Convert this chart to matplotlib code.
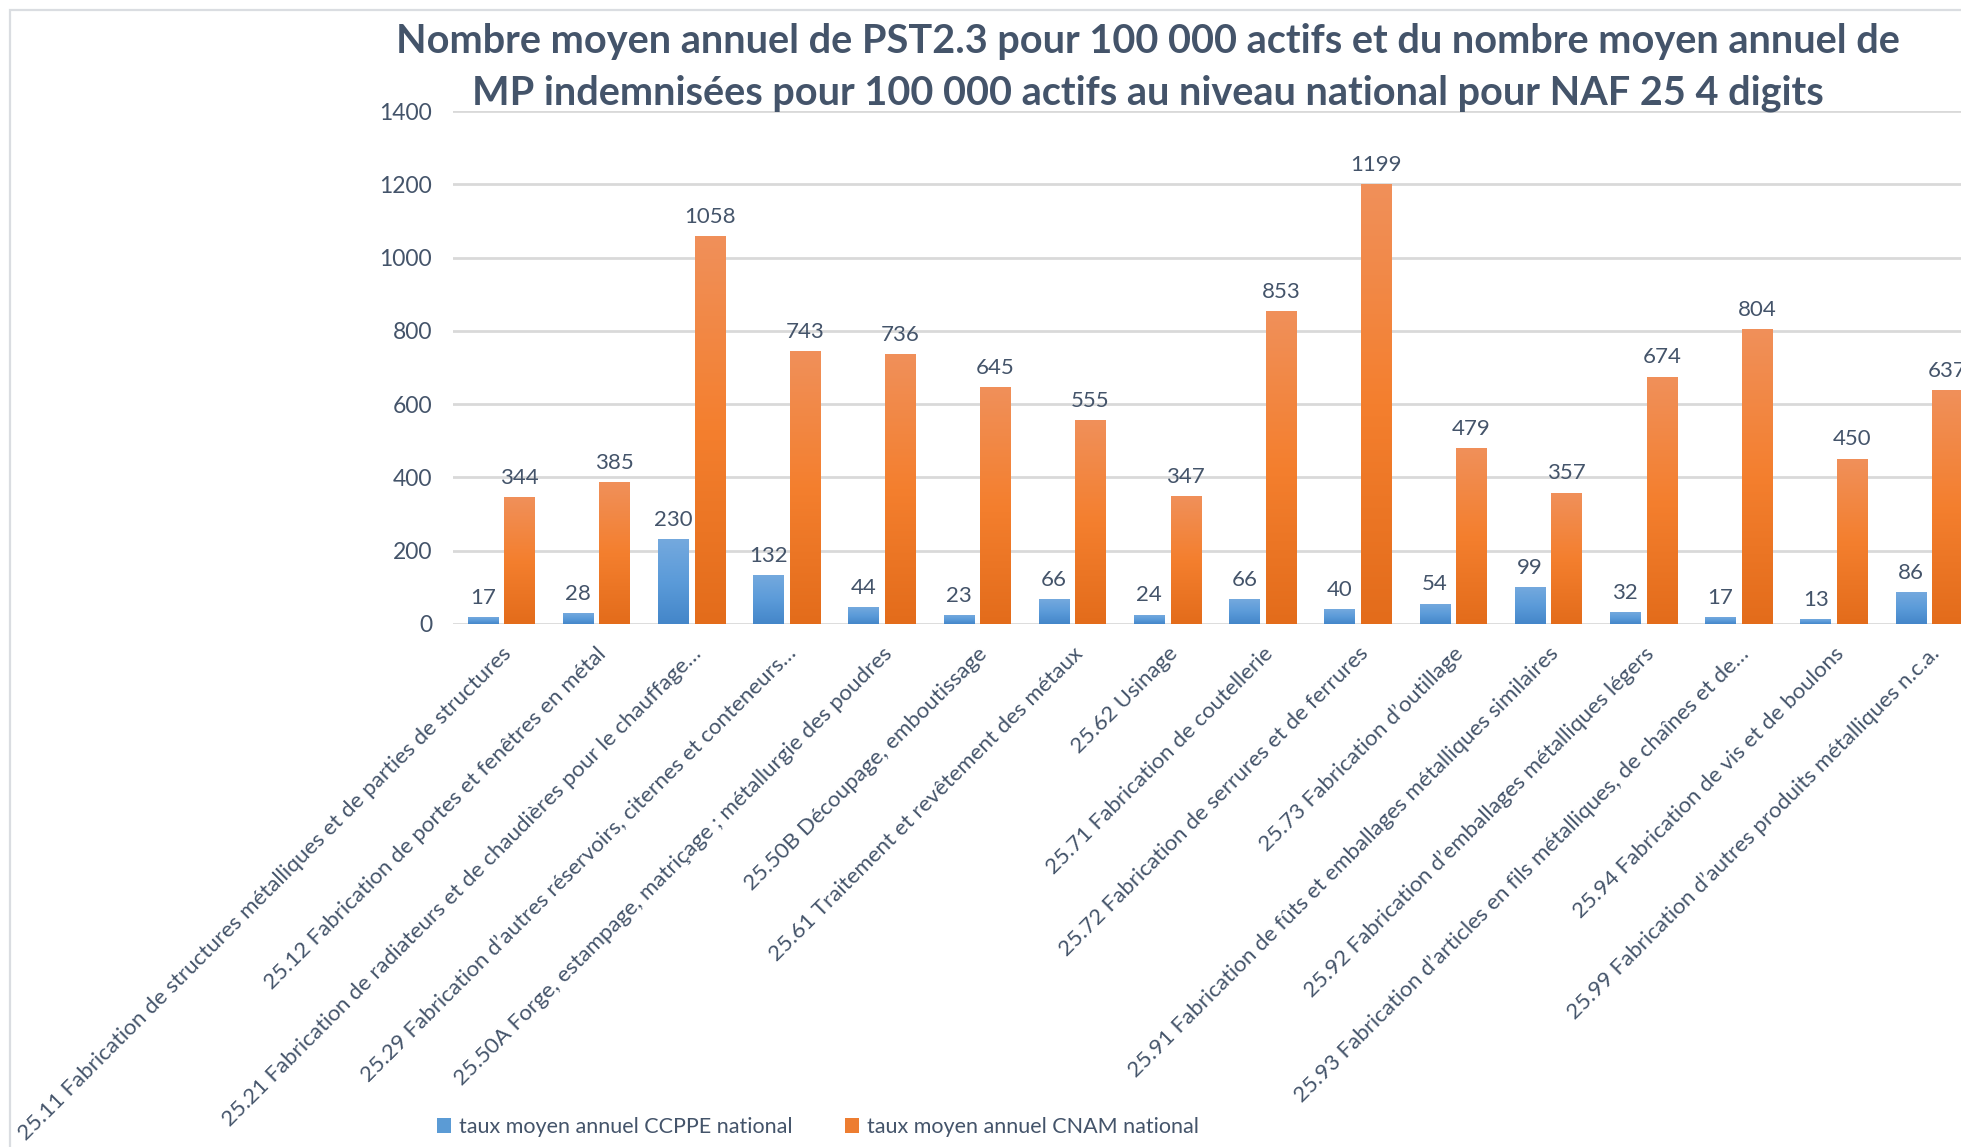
import numpy as np
import matplotlib
matplotlib.use("Agg")
import matplotlib.pyplot as plt
from matplotlib.colors import LinearSegmentedColormap
from matplotlib.patches import Rectangle

plt.rcParams["font.family"] = ["Lato", "DejaVu Sans"]

TEXT = "#44546A"
GRID = "#D9D9D9"

categories = [
    "25.11 Fabrication de structures métalliques et de parties de structures",
    "25.12 Fabrication de portes et fenêtres en métal",
    "25.21 Fabrication de radiateurs et de chaudières pour le chauffage…",
    "25.29 Fabrication d’autres réservoirs, citernes et conteneurs…",
    "25.50A Forge, estampage, matriçage ; métallurgie des poudres",
    "25.50B Découpage, emboutissage",
    "25.61 Traitement et revêtement des métaux",
    "25.62 Usinage",
    "25.71 Fabrication de coutellerie",
    "25.72 Fabrication de serrures et de ferrures",
    "25.73 Fabrication d’outillage",
    "25.91 Fabrication de fûts et emballages métalliques similaires",
    "25.92 Fabrication d’emballages métalliques légers",
    "25.93 Fabrication d’articles en fils métalliques, de chaînes et de…",
    "25.94 Fabrication de vis et de boulons",
    "25.99 Fabrication d’autres produits métalliques n.c.a.",
]
ccppe = [17, 28, 230, 132, 44, 23, 66, 24, 66, 40, 54, 99, 32, 17, 13, 86]
cnam = [344, 385, 1058, 743, 736, 645, 555, 347, 853, 1199, 479, 357, 674, 804, 450, 637]
yticks = [0, 200, 400, 600, 800, 1000, 1200, 1400]

title_lines = ["Nombre moyen annuel de PST2.3 pour 100 000 actifs et du nombre moyen annuel de",
               "MP indemnisées pour 100 000 actifs au niveau national pour NAF 25 4 digits"]
legend_labels = ["taux moyen annuel CCPPE national", "taux moyen annuel CNAM national"]

blue_cmap = LinearSegmentedColormap.from_list("b", ["#4486C9", "#5B9BD9", "#74A9DE"])
orange_cmap = LinearSegmentedColormap.from_list("o", ["#E36C1B", "#F47F2E", "#F0905A"])

fig = plt.figure(figsize=(19.61, 11.47), dpi=100)
W, H = 1961, 1147

# light frame of the original chart area (cropped at right/bottom)
fig.add_artist(Rectangle((10 / W, -0.1), 1.2, 1.1 - 10 / H, transform=fig.transFigure,
                         fill=False, edgecolor="#DADDE1", linewidth=1.6))

left, right = -0.505, 15.505
ax_left = 453 / W
ax_w = (right - left) * 95.2 / W
ax = fig.add_axes([ax_left, 1 - 624 / H, ax_w, (624 - 111) / H])

x = np.arange(len(categories))
bw = 0.32
off = 0.192

b1 = ax.bar(x - off, ccppe, bw, color="#5B9BD5", label=legend_labels[0], zorder=2)
b2 = ax.bar(x + off, cnam, bw, color="#ED7D31", label=legend_labels[1], zorder=2)

grad = np.linspace(0, 1, 256).reshape(-1, 1)
for bars, cmap in ((b1, blue_cmap), (b2, orange_cmap)):
    for r in bars:
        x0, w, h = r.get_x(), r.get_width(), r.get_height()
        ax.imshow(grad, extent=[x0, x0 + w, 0, h], origin="lower", aspect="auto",
                  cmap=cmap, zorder=3, interpolation="bilinear")

for xs, vals in ((x - off, ccppe), (x + off, cnam)):
    for xi, v in zip(xs, vals):
        ax.annotate(str(v), (xi, v), xytext=(0, 7), textcoords="offset points",
                    ha="center", va="bottom", fontsize=16, color=TEXT, zorder=4)

ax.set_xlim(left, right)
ax.set_ylim(0, 1400)
ax.set_yticks(yticks)
ax.grid(axis="y", color=GRID, linewidth=2)
ax.set_axisbelow(True)
for s in ax.spines.values():
    s.set_visible(False)
ax.tick_params(axis="y", length=0, pad=15, labelsize=16.5, labelcolor=TEXT)
ax.tick_params(axis="x", length=0, pad=14)
ax.set_xticks(x)
ax.set_xticklabels(categories, rotation=45, ha="right", va="top",
                   rotation_mode="anchor", fontsize=16, color=TEXT)

# title, one text per line
for line, ypx in zip(title_lines, (42, 93)):
    fig.text(1148 / W, 1 - ypx / H, line, ha="center", va="center", fontsize=28.5,
             fontweight="bold", color=TEXT)

leg = fig.legend(handles=[b1, b2], labels=legend_labels, loc="center",
                 bbox_to_anchor=(818 / W, 1 - 1127 / H), ncol=2, frameon=False,
                 fontsize=15.5, labelcolor=TEXT, handlelength=0.65, handleheight=0.65,
                 handletextpad=0.4, columnspacing=2.4)

fig.savefig("out.png", dpi=100)
